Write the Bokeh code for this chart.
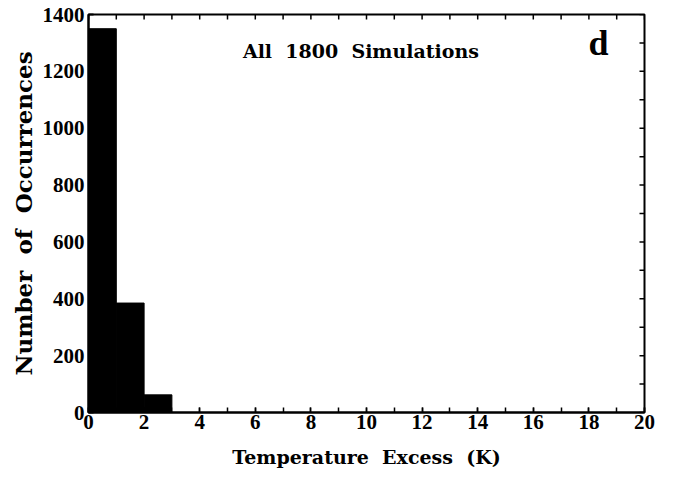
import math
from bokeh.plotting import figure
from bokeh.models import Label, Range1d, FixedTicker
from bokeh.embed import file_html
from bokeh.resources import INLINE

bin_left = [0, 1, 2]
bin_right = [1, 2, 3]
counts = [1350, 385, 62]
x_ticks = [0, 2, 4, 6, 8, 10, 12, 14, 16, 18, 20]
x_minor = list(range(0, 21))
y_ticks = [0, 200, 400, 600, 800, 1000, 1200, 1400]
y_minor = list(range(0, 1401, 100))

TICKFONT = "Liberation Serif"
LABELFONT = "DejaVu Serif"
NB = "\u00a0"

X0, X1 = 0, 20
Y0, Y1 = 0, 1400

p = figure(width=676, height=479, output_backend="svg", toolbar_location=None,
           x_range=Range1d(X0, X1), y_range=Range1d(Y0, Y1),
           min_border_left=88, min_border_right=32, min_border_top=14, min_border_bottom=67)
p.grid.visible = False
p.outline_line_color = "black"
p.outline_line_width = 2
p.background_fill_color = "white"
p.border_fill_color = "white"

p.quad(left=bin_left, right=bin_right, bottom=0, top=counts,
       fill_color="black", line_color="black")

# inward ticks along top and right edges (half of each dash is clipped by the frame)
p.scatter(x=x_minor, y=[Y1] * len(x_minor), marker="dash", size=10, angle=math.pi / 2,
          line_color="black", line_width=1.5)
p.scatter(x=[X1] * len(y_minor), y=y_minor, marker="dash", size=10, angle=0,
          line_color="black", line_width=1.5)

xt = FixedTicker(ticks=x_ticks, minor_ticks=x_minor)
yt = FixedTicker(ticks=y_ticks, minor_ticks=y_minor)
p.xaxis.ticker = xt
p.yaxis.ticker = yt

for ax in (p.xaxis[0], p.yaxis[0]):
    ax.axis_line_width = 2
    ax.major_tick_in = 5
    ax.major_tick_out = 0
    ax.minor_tick_in = 5
    ax.minor_tick_out = 0
    ax.major_tick_line_width = 1.5
    ax.minor_tick_line_width = 1.5
    ax.major_label_text_font = TICKFONT
    ax.major_label_text_font_style = "bold"
    ax.major_label_text_color = "black"
    ax.major_label_text_font_size = "21px"
    ax.axis_label_text_font = LABELFONT
    ax.axis_label_text_font_style = "bold"
    ax.axis_label_text_color = "black"

p.xaxis.axis_label = "Temperature" + NB + " Excess" + NB + " (K)"
p.yaxis.axis_label = "Number" + NB + " of" + NB + " Occurrences"
p.xaxis.axis_label_text_font_size = "19px"
p.yaxis.axis_label_text_font_size = "23px"
p.xaxis.major_label_standoff = 2
p.xaxis.axis_label_standoff = 14
p.yaxis.major_label_standoff = 4
p.yaxis.axis_label_standoff = 3

p.add_layout(Label(x=9.8, y=1272, text="All" + NB + " 1800" + NB + " Simulations",
                   text_font=LABELFONT, text_font_style="bold", text_font_size="19px",
                   text_align="center", text_baseline="middle", text_color="black"))
p.add_layout(Label(x=18.35, y=1298, text="d", text_font=TICKFONT,
                   text_font_style="bold", text_font_size="36px", text_align="center",
                   text_baseline="middle", text_color="black"))

open("out.html", "w").write(file_html(p, INLINE))
